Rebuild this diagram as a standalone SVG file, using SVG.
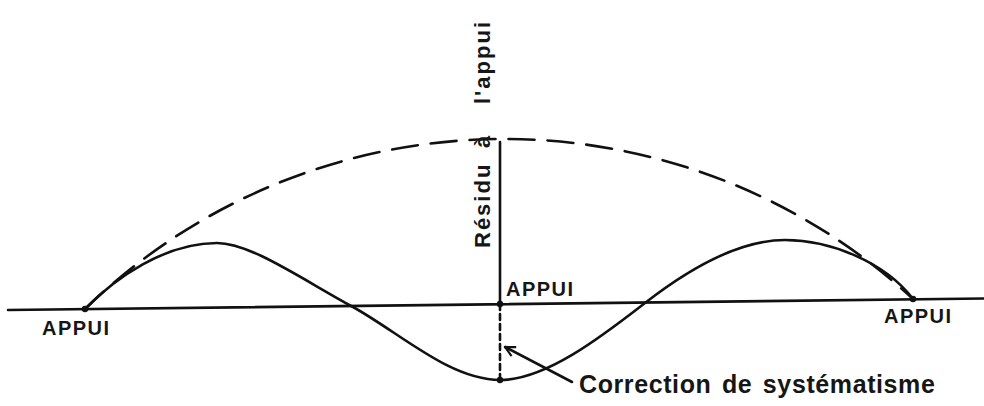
<svg xmlns="http://www.w3.org/2000/svg" width="984" height="406" viewBox="0 0 984 406">
<style>
.ln{fill:none;stroke:#111;stroke-width:2.6;stroke-linecap:round;stroke-linejoin:round}
.dash{stroke-dasharray:26 13}
.dot{fill:#111}
.lbl{font-family:"Liberation Sans",Arial,sans-serif;fill:#161616;font-weight:bold}
.ap{font-size:20px;letter-spacing:1.5px}
</style>
<defs>
<marker id="arr" viewBox="0 0 12 12" refX="11" refY="6" markerWidth="12" markerHeight="12" markerUnits="userSpaceOnUse" orient="auto">
<path d="M1,1 L11,6 L1,11" fill="none" stroke="#111" stroke-width="2.2"/>
</marker>
</defs>
<rect width="984" height="406" fill="#fff"/>
<g id="connectors">
<line class="ln" x1="8" y1="310" x2="984" y2="298.5"/>
<path class="ln dash" d="M85,309 A602,602 0 0 1 913,299"/>
<path class="ln" d="M85,309 C115,278 165,243 217,243 C250,243 300,278 353,307 C400,333 450,380 500,380 C545,380 600,338 645,303 C690,268 740,240 785,240 C830,240 885,262 913,299"/>
<line class="ln" x1="500" y1="142" x2="500" y2="304"/>
<line class="ln" x1="500" y1="304" x2="500" y2="380" stroke-dasharray="6 4"/>
<line class="ln" x1="572" y1="382" x2="505" y2="347" marker-end="url(#arr)"/>
</g>
<g id="support-left">
<circle class="dot" cx="85" cy="309" r="3.2"/>
<text class="lbl ap" x="42" y="335">APPUI</text>
</g>
<g id="support-center">
<circle class="dot" cx="500" cy="304" r="3.2"/>
<text class="lbl ap" x="506" y="296">APPUI</text>
</g>
<g id="support-right">
<circle class="dot" cx="913" cy="299" r="3.2"/>
<text class="lbl ap" x="884" y="323">APPUI</text>
</g>
<g id="min-point">
<circle class="dot" cx="500" cy="380" r="3.2"/>
</g>
<g id="residu-label">
<text class="lbl" font-size="22" letter-spacing="2" transform="rotate(-90)"><tspan x="-248" y="490">Résidu</tspan><tspan x="-148" y="490">à</tspan><tspan x="-104" y="490">l'appui</tspan></text>
</g>
<g id="correction-label">
<text class="lbl" x="579" y="393" font-size="25" letter-spacing="0.6" word-spacing="3">Correction de systématisme</text>
</g>
</svg>
